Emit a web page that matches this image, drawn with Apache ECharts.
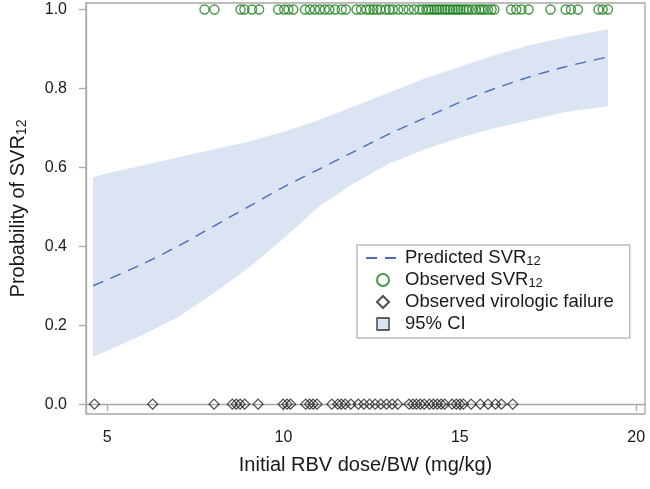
<!DOCTYPE html>
<html>
<head>
<meta charset="utf-8">
<script src="https://cdn.jsdelivr.net/npm/echarts@6/dist/echarts.min.js"></script>
<style>
html,body{margin:0;padding:0;background:#fff;}
#chart{width:650px;height:489px;}
</style>
</head>
<body>
<div id="chart"></div>
<script>
// ---- data ----
const curveX    = [4.6, 5, 6, 7, 8, 9, 10, 11, 12, 13, 14, 15, 16, 17, 18, 19.2];
const predicted = [0.30, 0.315, 0.355, 0.40, 0.45, 0.50, 0.55, 0.595, 0.64, 0.685, 0.725, 0.765, 0.80, 0.83, 0.855, 0.88];
const ciUpper   = [0.575, 0.585, 0.605, 0.625, 0.645, 0.665, 0.69, 0.72, 0.755, 0.79, 0.825, 0.855, 0.885, 0.91, 0.93, 0.95];
const ciLower   = [0.12, 0.135, 0.175, 0.22, 0.28, 0.345, 0.42, 0.50, 0.56, 0.61, 0.645, 0.675, 0.70, 0.72, 0.74, 0.755];

const svrDoses = [7.76, 8.04, 8.78, 8.89, 9.11, 9.31, 9.85, 10.02, 10.14, 10.28, 10.61, 10.75, 10.89, 11.03, 11.17, 11.3, 11.46, 11.65, 11.77,
  12.07, 12.2, 12.35, 12.45, 12.55, 12.65, 12.75, 12.9, 13.0, 13.1, 13.25, 13.4, 13.55, 13.7, 13.85, 13.95, 14.05, 14.12, 14.2, 14.28, 14.35,
  14.42, 14.5, 14.58, 14.65, 14.72, 14.8, 14.88, 14.95, 15.02, 15.1, 15.18, 15.25, 15.35, 15.45, 15.55, 15.62, 15.7, 15.8, 15.9, 15.98,
  16.45, 16.6, 16.75, 16.95, 17.57, 18.0, 18.15, 18.35, 18.93, 19.05, 19.2];
const failDoses = [4.64, 6.29, 8.03, 8.55, 8.66, 8.77, 8.9, 9.28, 9.99, 10.1, 10.2, 10.63, 10.74, 10.84, 10.95, 11.37, 11.54, 11.64, 11.75,
  11.91, 12.12, 12.28, 12.44, 12.6, 12.76, 12.92, 13.08, 13.24, 13.56, 13.67, 13.77, 13.88, 13.99, 14.14, 14.25, 14.36, 14.47, 14.57,
  14.78, 14.9, 15.0, 15.1, 15.32, 15.58, 15.8, 16.01, 16.18, 16.5];
const xTicks = [5, 10, 15, 20];
const yTicks = [0, 0.2, 0.4, 0.6, 0.8, 1.0];
const svrValue = 1, failValue = 0;

// ---- chart ----
const FONT = 'Liberation Sans, Arial, sans-serif';
const chart = echarts.init(document.getElementById('chart'), null, {renderer: 'canvas'});

const bandData  = curveX.map((x, i) => [x, ciLower[i], ciUpper[i]]);
const predData  = curveX.map((x, i) => [x, predicted[i]]);
const svrData   = svrDoses.map(x => [x, svrValue]);
const failData  = failDoses.map(x => [x, failValue]);

const axisGray = '#a8a8a8';
const txt = '#1a1a1a';
const bandColor = '#dae4f2';

chart.setOption({
  animation: false,
  backgroundColor: '#fff',
  textStyle: {fontFamily: FONT},
  grid: {left: 85, right: 5, top: 3, bottom: 75, show: true, borderColor: axisGray, borderWidth: 1.3, containLabel: false},
  xAxis: {
    type: 'value', min: 4.4, max: 20.25,
    name: 'Initial RBV dose/BW (mg/kg)', nameLocation: 'middle', nameGap: 41,
    nameTextStyle: {fontSize: 20, color: txt, fontFamily: FONT},
    axisLine: {show: true, lineStyle: {color: axisGray, width: 1.3}},
    axisTick: {show: true, length: 7, lineStyle: {color: axisGray, width: 1.3}, customValues: xTicks},
    axisLabel: {fontSize: 16, color: txt, margin: 16, fontFamily: FONT, customValues: xTicks, formatter: v => String(v)},
    splitLine: {show: false}
  },
  yAxis: {
    type: 'value', min: -0.025, max: 1.0165,
    name: 'Probability of SVR{sub|12}', nameLocation: 'middle', nameGap: 57,
    nameTextStyle: {fontSize: 20, color: txt, fontFamily: FONT,
      rich: {sub: {fontSize: 14, color: txt, fontFamily: FONT, verticalAlign: 'bottom', padding: [8, 0, 0, 0]}}},
    axisLine: {show: true, lineStyle: {color: axisGray, width: 1.3}},
    axisTick: {show: true, length: 7, lineStyle: {color: axisGray, width: 1.3}, customValues: yTicks},
    axisLabel: {fontSize: 16, color: txt, margin: 19, fontFamily: FONT, customValues: yTicks, formatter: v => v.toFixed(1)},
    splitLine: {show: false}
  },
  legend: {
    orient: 'vertical', left: 357, top: 245,
    padding: [3, 16, 4, 8], itemGap: 2, itemWidth: 34, itemHeight: 12,
    symbolKeepAspect: true,
    borderColor: '#bdbdbd', borderWidth: 1.5, backgroundColor: '#fff',
    textStyle: {fontSize: 18.5, color: txt, fontFamily: FONT, lineHeight: 20,
      rich: {
        t: {fontSize: 18.5, color: txt, fontFamily: FONT, lineHeight: 20},
        sub: {fontSize: 13, color: txt, fontFamily: FONT, lineHeight: 13, verticalAlign: 'bottom'}
      }},
    formatter: name => name.indexOf('SVR12') >= 0 ? '{t|' + name.replace('SVR12', 'SVR') + '}{sub|12}' : '{t|' + name + '}',
    data: [
      {name: 'Predicted SVR12'},
      {name: 'Observed SVR12', icon: 'circle'},
      {name: 'Observed virologic failure', icon: 'path://M5,0L10,5L5,10L0,5Z'},
      {name: '95% CI', icon: 'path://M0,0L10,0L10,10L0,10Z', itemStyle: {color: bandColor, borderColor: '#333', borderWidth: 1.3}}
    ]
  },
  series: [
    {
      name: '95% CI', type: 'custom', data: bandData,
      encode: {x: 0, y: [1, 2]},
      itemStyle: {color: bandColor},
      silent: true, z: 1,
      renderItem: function (params, api) {
        if (params.dataIndex !== 0) return null;
        const n = params.dataInsideLength || bandData.length;
        const pts = [];
        for (let i = 0; i < bandData.length; i++) pts.push(api.coord([bandData[i][0], bandData[i][2]]));
        for (let i = bandData.length - 1; i >= 0; i--) pts.push(api.coord([bandData[i][0], bandData[i][1]]));
        return {type: 'polygon', shape: {points: pts}, style: {fill: bandColor, stroke: null}};
      }
    },
    {
      name: 'Predicted SVR12', type: 'line', data: predData, symbol: 'none', smooth: 0.3,
      itemStyle: {color: 'rgba(0,0,0,0)'},
      lineStyle: {color: '#4a6cc2', width: 1.4, type: [11, 8]}, z: 3
    },
    {
      name: 'Observed SVR12', type: 'scatter', data: svrData, symbol: 'circle', symbolSize: 9,
      itemStyle: {color: 'rgba(0,0,0,0)', borderColor: '#1c7f1c', borderWidth: 1.4}, z: 4
    },
    {
      name: 'Observed virologic failure', type: 'scatter', data: failData, symbol: 'diamond', symbolSize: 10,
      itemStyle: {color: 'rgba(0,0,0,0)', borderColor: '#222', borderWidth: 1.3}, z: 4
    }
  ]
});
</script>
</body>
</html>
